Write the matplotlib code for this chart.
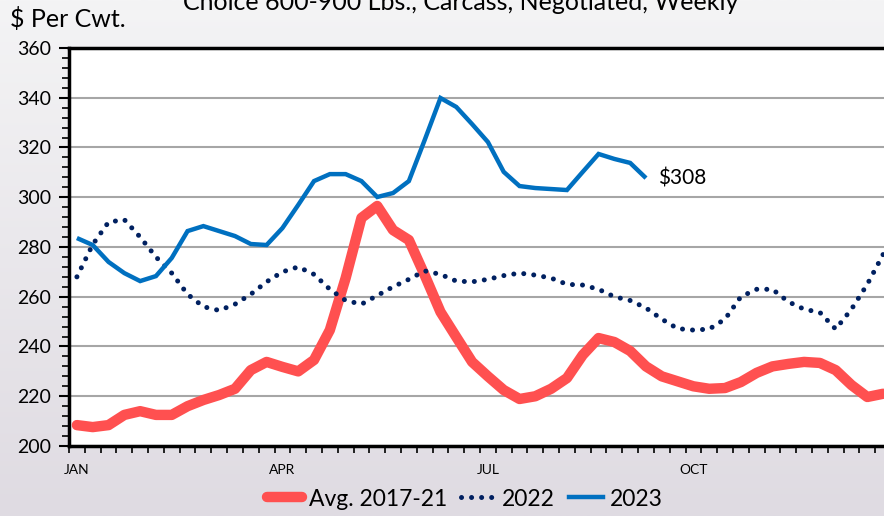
import numpy as np
import matplotlib
matplotlib.use("Agg")
import matplotlib.pyplot as plt
from matplotlib.lines import Line2D

plt.rcParams['font.family'] = ['Lato', 'DejaVu Sans']

title = "Choice 600-900 Lbs., Carcass, Negotiated, Weekly"
ylabel = "$ Per Cwt."
month_labels = ["JAN", "APR", "JUL", "OCT"]
month_weeks = [0, 13, 26, 39]

avg_2017_21 = [208.4, 207.6, 208.4, 212.5, 214, 212.5, 212.5, 216, 218.5, 220.5,
               223, 230.5, 233.8, 231.8, 230, 234.6, 246.6, 267.5, 291.7, 296.5,
               286.8, 282.8, 268.7, 253.9, 243.8, 233.8, 228, 222.5, 218.9, 220,
               223, 227.3, 236.6, 243.4, 241.8, 238.2, 232, 228, 226, 224,
               223, 223.3, 225.7, 229.4, 232, 233, 233.8, 233.4, 230.5, 224.5,
               219.7, 221]
y2022 = [268, 281, 290, 291, 284, 276, 269.5, 261, 256, 254.5,
         257, 261, 266, 270, 272, 269, 263, 258.5, 257, 260.5,
         264, 267, 270.4, 269, 266.3, 266, 267, 268.5, 269.5, 268.7,
         267.5, 265, 264.7, 263, 260, 258.5, 255.5, 251, 247.2, 246.6,
         247, 251, 260, 263, 263, 258, 255, 253.7, 247, 255,
         265, 277]
y2023 = [283.6, 280.8, 274, 269.5, 266.3, 268.3, 275.6, 286.4, 288.4, 286.4,
         284.4, 281.2, 280.8, 287.6, 296.9, 306.5, 309.3, 309.3, 306.5, 300.1,
         301.7, 306.5, 323, 339.9, 336.3, 329.4, 322.2, 310.2, 304.5, 303.7,
         303.3, 302.9, 310.2, 317.4, 315.4, 313.8, 307.7]
last_label = "$308"

W, H = 884, 516
fig = plt.figure(figsize=(W / 100, H / 100), dpi=100)

# gradient background
bg = fig.add_axes([0, 0, 1, 1], zorder=-10)
grad = np.linspace(0, 1, 256).reshape(-1, 1)
top = np.array([0xf4, 0xf4, 0xf5]) / 255
bot = np.array([0xdf, 0xdb, 0xe2]) / 255
img = top + (bot - top) * grad[:, :, None]
bg.imshow(img, aspect='auto', extent=[0, 1, 0, 1])
bg.set_axis_off()

ax = fig.add_axes([69 / W, 1 - 446 / H, (891 - 69) / W, (446 - 48) / H])
ax.set_facecolor('white')

x_avg = np.arange(len(avg_2017_21))
x22 = np.arange(len(y2022))
x23 = np.arange(len(y2023))

ax.plot(x_avg, avg_2017_21, color='#FF5050', lw=7.5, solid_capstyle='round',
        solid_joinstyle='round', zorder=3)
ax.plot(x22, y2022, color='#002060', lw=3.6, linestyle=(0, (0.01, 2.0)),
        dash_capstyle='round', zorder=4)
ax.plot(x23, y2023, color='#0070C0', lw=3.2, solid_capstyle='butt',
        solid_joinstyle='miter', zorder=5)

ax.annotate(last_label, xy=(x23[-1], y2023[-1]), xytext=(9, 0),
            textcoords='offset points', va='center', ha='left', fontsize=15,
            color='black')

ax.set_xlim(-0.5, 51.5)
ax.set_ylim(200, 360)
ax.set_yticks(np.arange(200, 361, 20))
ax.set_yticks(np.arange(200, 361, 4), minor=True)
ax.set_xticks(month_weeks)
ax.set_xticklabels(month_labels, fontsize=10)
ax.set_xticks(np.arange(-0.5, 52, 1), minor=True)
ax.tick_params(axis='x', which='major', length=0, pad=13)
ax.tick_params(axis='x', which='minor', length=5, width=1.2, direction='out')
ax.tick_params(axis='y', which='major', length=7, width=1.5, labelsize=14, pad=6)
ax.tick_params(axis='y', which='minor', length=5, width=1.2)

ax.grid(axis='y', which='major', color='#a6a6a6', lw=1.5)
ax.set_axisbelow(True)
for s in ax.spines.values():
    s.set_linewidth(2.5)
    s.set_color('black')

fig.text(10 / W, 1 - 19 / H, ylabel, fontsize=18, ha='left', va='center')
fig.text(461 / W, 1 - 2 / H, title, fontsize=18, ha='center', va='center')

handles = [Line2D([], [], color='#FF5050', lw=7.5, solid_capstyle='round'),
           Line2D([], [], color='#002060', lw=3.6, linestyle=(0, (0.01, 2.0)),
                  dash_capstyle='round'),
           Line2D([], [], color='#0070C0', lw=3.2)]
leg = fig.legend(handles, ["Avg. 2017-21", "2022", "2023"], loc='center',
                 bbox_to_anchor=(465 / W, 1 - 499 / H), ncol=3, frameon=False,
                 handlelength=1.5, handletextpad=0.3,
                 columnspacing=0.6, prop={'size': 16.5})

fig.savefig('out.png', dpi=100, facecolor=fig.get_facecolor())
